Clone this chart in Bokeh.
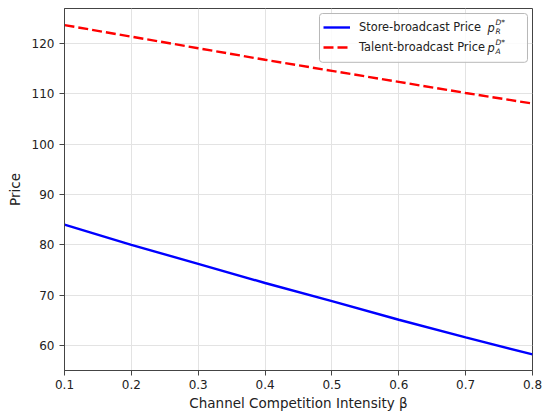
from bokeh.plotting import figure
from bokeh.models import Legend, LegendItem, Label, Range1d, FixedTicker, BoxAnnotation
from bokeh.embed import file_html
from bokeh.resources import INLINE

beta = [0.1, 0.2, 0.3, 0.4, 0.5, 0.6, 0.7, 0.8]
store_price = [84.0, 80.0, 76.2, 72.4, 68.8, 65.1, 61.6, 58.2]
talent_price = [123.7, 121.4, 119.1, 116.8, 114.6, 112.4, 110.2, 108.1]
x_ticks = [0.1, 0.2, 0.3, 0.4, 0.5, 0.6, 0.7, 0.8]
y_ticks = [60, 70, 80, 90, 100, 110, 120]

FONT = "DejaVu Sans"

p = figure(width=542, height=416, output_backend="svg", toolbar_location=None,
           x_range=Range1d(0.1, 0.8), y_range=Range1d(55, 127),
           min_border_left=64, min_border_right=10, min_border_top=8, min_border_bottom=46)
p.background_fill_color = "white"
p.border_fill_color = "white"
p.outline_line_color = "#444444"
p.outline_line_width = 1

for ax in (p.xaxis, p.yaxis):
    ax.axis_line_color = "#444444"
    ax.major_tick_line_color = "#444444"
    ax.major_tick_out = 5
    ax.major_tick_in = 0
    ax.minor_tick_line_color = None
    ax.major_label_text_font = FONT
    ax.major_label_text_font_size = "12px"
    ax.major_label_text_color = "#222222"
    ax.axis_label_text_font = FONT
    ax.axis_label_text_font_size = "13.5px"
    ax.axis_label_text_font_style = "normal"
    ax.axis_label_text_color = "#222222"

p.xaxis.ticker = FixedTicker(ticks=x_ticks)
p.yaxis.ticker = FixedTicker(ticks=y_ticks)
p.xaxis.axis_label = "Channel Competition Intensity β"
p.yaxis.axis_label = "Price"
p.xaxis.axis_label_standoff = 3
p.yaxis.axis_label_standoff = 6
p.xaxis.major_label_standoff = 4

p.xgrid.grid_line_color = "#e3e3e3"
p.ygrid.grid_line_color = "#e3e3e3"
p.xgrid.ticker = FixedTicker(ticks=x_ticks)
p.ygrid.ticker = FixedTicker(ticks=y_ticks)

r1 = p.line(beta, store_price, line_color="#0000ff", line_width=2.4)
r2 = p.line(beta, talent_price, line_color="#ff0000", line_width=2.4, line_dash="10 4")

# legend background box (white, slightly translucent like matplotlib)
p.add_layout(BoxAnnotation(left=0.4814, right=0.7925, bottom=116.3, top=126.0,
                           fill_color="white", fill_alpha=0.85, line_color="#b8b8b8",
                           line_alpha=1.0, line_width=1, border_radius=3, level="annotation"))

legend = Legend(items=[LegendItem(label="Store-broadcast Price", renderers=[r1]),
                       LegendItem(label="Talent-broadcast Price", renderers=[r2])],
                location=(259, 315), padding=6, margin=0, spacing=4,
                glyph_width=27, glyph_height=16, label_standoff=9, label_width=156,
                label_text_font=FONT, label_text_font_size="11.4px", label_text_color="#222222",
                label_height=16,
                border_line_color=None, background_fill_alpha=0)
p.add_layout(legend)

# math parts p_R^{D*}, p_A^{D*}  (screen units are relative to the plot frame, y upward)
for ypx, sub in ((343, "R"), (323, "A")):
    p.add_layout(Label(x=423, y=ypx, x_units="screen", y_units="screen", text="p",
                       text_font=FONT, text_font_size="11.4px", text_font_style="italic",
                       text_color="#222222", text_baseline="middle", level="overlay"))
    p.add_layout(Label(x=431, y=ypx - 4, x_units="screen", y_units="screen", text=sub,
                       text_font=FONT, text_font_size="7.5px", text_font_style="italic",
                       text_color="#222222", text_baseline="middle", level="overlay"))
    p.add_layout(Label(x=431, y=ypx + 5, x_units="screen", y_units="screen", text="D*",
                       text_font=FONT, text_font_size="7.5px", text_font_style="italic",
                       text_color="#222222", text_baseline="middle", level="overlay"))

open("out.html", "w").write(file_html(p, INLINE))
